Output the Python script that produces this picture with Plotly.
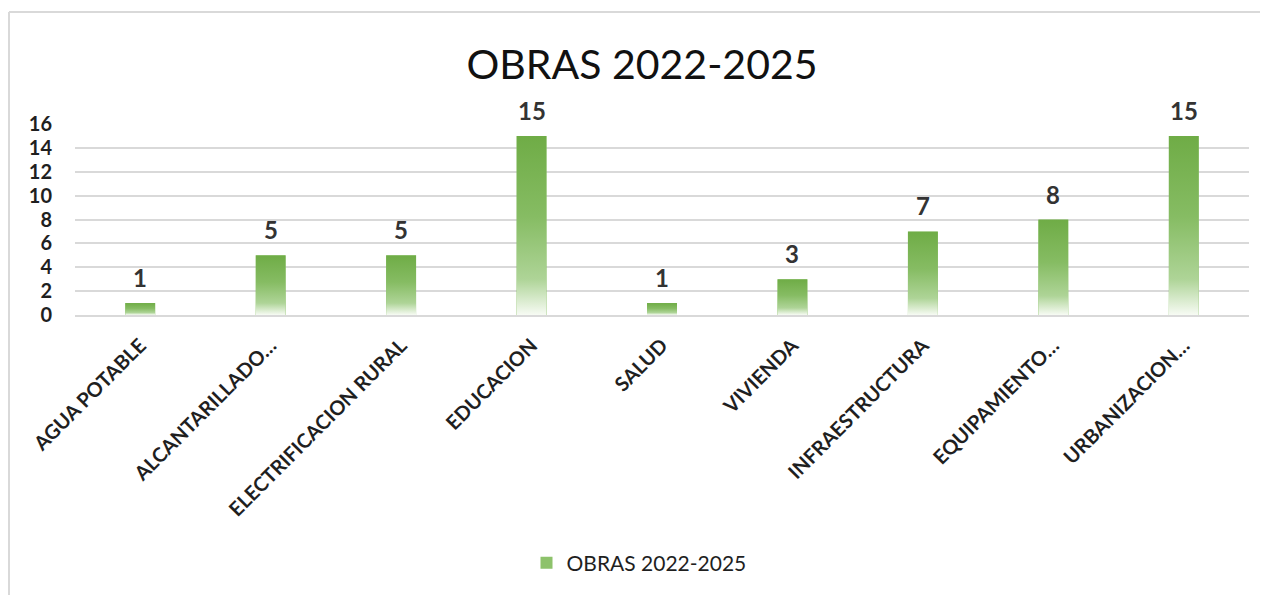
import base64
import plotly.graph_objects as go

# ---- data ----
categories = ["AGUA POTABLE", "ALCANTARILLADO…", "ELECTRIFICACION RURAL", "EDUCACION",
              "SALUD", "VIVIENDA", "INFRAESTRUCTURA", "EQUIPAMIENTO…", "URBANIZACION…"]
values = [1, 5, 5, 15, 1, 3, 7, 8, 15]
series_name = "OBRAS 2022-2025"
title_text = "OBRAS 2022-2025"
y_ticks = [0, 2, 4, 6, 8, 10, 12, 14, 16]

# ---- style ----
FONT = "Lato"
TXT = "#1f1f1f"
GRID = "#D9D9D9"
BAR_W = 0.23
W, H = 1260, 587  # page body has an 8px margin

svg = ("<svg xmlns='http://www.w3.org/2000/svg' width='10' height='100' viewBox='0 0 10 100' "
       "preserveAspectRatio='none'><defs><linearGradient id='g' x1='0' y1='0' x2='0' y2='1'>"
       "<stop offset='0' stop-color='#6FAC46'/><stop offset='0.45' stop-color='#86BC63'/>"
       "<stop offset='0.8' stop-color='#AED497'/><stop offset='1' stop-color='#F7FBF4'/>"
       "</linearGradient></defs><rect x='0' y='0' width='10' height='100' fill='url(#g)'/></svg>")
grad_src = "data:image/svg+xml;base64," + base64.b64encode(svg.encode()).decode()

fig = go.Figure()
fig.add_trace(go.Bar(
    x=categories, y=values, name=series_name, width=BAR_W,
    marker=dict(color="#8DC26B", line=dict(width=0)),
    showlegend=True, hoverinfo="x+y",
))

images = []
annotations = []
for i, (c, v) in enumerate(zip(categories, values)):
    images.append(dict(source=grad_src, xref="x", yref="y", x=i, y=0,
                       sizex=BAR_W, sizey=v, xanchor="center", yanchor="bottom",
                       sizing="stretch", layer="above"))
    annotations.append(dict(x=c, y=v, xref="x", yref="y", text=str(v), showarrow=False,
                            yanchor="bottom", yshift=9,
                            font=dict(family=FONT, size=24, color="#333333", weight="bold")))

# chart frame (left and top borders)
L_M, R_M, T_M, B_M = 67, 19, 116, 280
pw, ph = W - L_M - R_M, H - T_M - B_M
fx = (1 - L_M) / pw
fy_top = (H - B_M - 4) / ph
shapes = [
    dict(type="line", xref="paper", yref="paper", x0=fx, x1=1.05, y0=fy_top, y1=fy_top,
         line=dict(color=GRID, width=2)),
    dict(type="line", xref="paper", yref="paper", x0=fx, x1=fx, y0=fy_top, y1=-1.6,
         line=dict(color=GRID, width=2)),
]

fig.update_layout(
    width=W, height=H,
    margin=dict(l=L_M, r=R_M, t=T_M, b=B_M),
    paper_bgcolor="white", plot_bgcolor="white",
    font=dict(family=FONT, color=TXT),
    title=dict(text=title_text, x=634 / W, xref="container", xanchor="center",
               y=1 - 57 / H, yref="container", yanchor="middle",
               font=dict(family=FONT, size=41, color="#111111")),
    xaxis=dict(type="category", tickangle=-45, showgrid=False, showline=True,
               linecolor=GRID, linewidth=2, ticks="", ticklabelstandoff=9,
               tickfont=dict(family=FONT, size=20, color=TXT, weight="bold")),
    yaxis=dict(range=[0, 16], tickvals=y_ticks, showgrid=True, gridcolor=GRID, gridwidth=1.5,
               zeroline=False, showline=False, ticks="", ticklabelstandoff=22,
               tickfont=dict(family=FONT, size=20, color=TXT, weight="bold")),
    legend=dict(orientation="h", xref="container", x=631 / W, xanchor="center",
                yref="container", y=1 - 555 / H, yanchor="middle", itemwidth=30,
                font=dict(family=FONT, size=21, color=TXT)),
    images=images, annotations=annotations, shapes=shapes,
    bargap=0.77,
)

fig.write_html("out.html")
